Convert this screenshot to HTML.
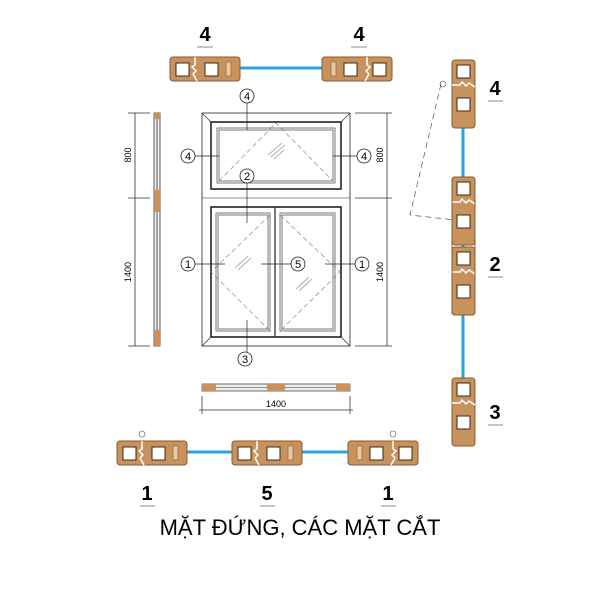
<!DOCTYPE html>
<html><head><meta charset="utf-8"><style>
html,body{margin:0;padding:0;background:#fff;width:600px;height:600px;overflow:hidden}
svg{display:block}
text{font-family:"Liberation Sans",sans-serif}
</style></head><body>
<svg width="600" height="600" viewBox="0 0 600 600" xmlns="http://www.w3.org/2000/svg">
<defs>
<g id="ph">
 <rect x="0" y="0" width="70" height="24" rx="3" fill="#c8925c" stroke="#8a5a30" stroke-width="1"/>
 <rect x="6" y="6" width="13" height="13" fill="#fff" stroke="#3a2a1a" stroke-width="1"/>
 <rect x="35" y="6" width="13" height="13" fill="#fff" stroke="#3a2a1a" stroke-width="1"/>
 <path d="M25 0 L25 8 L22 10 L26 14 L23 17 L27 24" fill="none" stroke="#fff" stroke-width="1.5"/>
 <rect x="56" y="5" width="5" height="14" fill="#e8c8a0" stroke="#8a5a30" stroke-width="0.6"/>
</g>
<g id="pv">
 <rect x="0" y="0" width="23" height="68" rx="3" fill="#c8925c" stroke="#8a5a30" stroke-width="1"/>
 <rect x="5" y="5" width="13" height="13" fill="#fff" stroke="#3a2a1a"/>
 <rect x="5" y="38" width="13" height="13" fill="#fff" stroke="#3a2a1a"/>
 <path d="M0 25 L8 25 L10 22 L14 26 L17 23 L23 27" fill="none" stroke="#fff" stroke-width="1.5"/>
</g>
</defs>

<!-- top profiles 4 4 -->
<text x="205" y="41" font-size="20" font-weight="bold" text-anchor="middle">4</text>
<line x1="197" y1="47" x2="213" y2="47" stroke="#888"/>
<text x="359" y="41" font-size="20" font-weight="bold" text-anchor="middle">4</text>
<line x1="351" y1="47" x2="367" y2="47" stroke="#888"/>
<line x1="238" y1="68" x2="324" y2="68" stroke="#29a3e0" stroke-width="3"/>
<use href="#ph" x="170" y="57" transform="translate(0,0)"/>
<use href="#ph" transform="translate(392,57) scale(-1,1)"/>

<!-- left side view -->
<g stroke="#333" stroke-width="0.8" fill="none">
 <line x1="135" y1="113" x2="135" y2="346"/>
 <line x1="128" y1="113" x2="150" y2="113"/>
 <line x1="128" y1="198" x2="150" y2="198"/>
 <line x1="128" y1="346" x2="150" y2="346"/>
 <rect x="154" y="113" width="6" height="233" fill="#eee"/>
 <line x1="157" y1="113" x2="157" y2="346"/>
</g>
<rect x="154" y="113" width="6" height="6" fill="#c8925c"/>
<rect x="154" y="190" width="6" height="22" fill="#c8925c"/>
<rect x="154" y="330" width="6" height="16" fill="#c8925c"/>
<text transform="translate(131,155) rotate(-90)" font-size="9" text-anchor="middle">800</text>
<text transform="translate(131,272) rotate(-90)" font-size="9" text-anchor="middle">1400</text>

<!-- right dim -->
<g stroke="#333" stroke-width="0.8">
 <line x1="387" y1="113" x2="387" y2="346"/>
 <line x1="355" y1="113" x2="392" y2="113"/>
 <line x1="355" y1="198" x2="392" y2="198"/>
 <line x1="355" y1="346" x2="392" y2="346"/>
</g>
<text transform="translate(383,155) rotate(-90)" font-size="9" text-anchor="middle">800</text>
<text transform="translate(383,272) rotate(-90)" font-size="9" text-anchor="middle">1400</text>

<!-- window elevation -->
<g stroke="#222" fill="none">
 <rect x="202" y="113" width="148" height="233" stroke-width="0.8"/>
 <line x1="202" y1="113" x2="211" y2="122" stroke-width="0.6"/>
 <line x1="350" y1="113" x2="341" y2="122" stroke-width="0.6"/>
 <line x1="202" y1="346" x2="211" y2="337" stroke-width="0.6"/>
 <line x1="350" y1="346" x2="341" y2="337" stroke-width="0.6"/>
 <line x1="202" y1="198" x2="350" y2="198" stroke-width="0.6"/>
 <rect x="211" y="122" width="130" height="67" stroke-width="1.6"/>
 <rect x="217" y="128" width="118" height="55" stroke-width="0.6"/>
 <rect x="219" y="130" width="114" height="51" stroke-width="0.6"/>
 <rect x="211" y="207" width="130" height="130" stroke-width="1.6"/>
 <line x1="275" y1="207" x2="275" y2="337" stroke-width="1.2"/>
 <rect x="216" y="213" width="54" height="118" stroke-width="0.6"/>
 <rect x="218" y="215" width="50" height="114" stroke-width="0.6"/>
 <rect x="280" y="213" width="55" height="118" stroke-width="0.6"/>
 <rect x="282" y="215" width="51" height="114" stroke-width="0.6"/>
 <g stroke="#777" stroke-width="0.6" stroke-dasharray="5,3">
  <polyline points="219,181 276,123 333,181"/>
  <polyline points="270,215 211,272 270,331"/>
  <polyline points="280,215 340,272 280,331"/>
 </g>
 <g stroke="#888" stroke-width="0.6">
  <line x1="268" y1="155" x2="282" y2="143"/><line x1="271" y1="157" x2="285" y2="145"/><line x1="274" y1="159" x2="284" y2="150"/>
  <line x1="235" y1="268" x2="248" y2="256"/><line x1="238" y1="270" x2="251" y2="258"/>
  <line x1="296" y1="289" x2="309" y2="277"/><line x1="299" y1="291" x2="312" y2="279"/>
 </g>
 <g stroke-width="0.7">
  <line x1="247" y1="102" x2="247" y2="130"/>
  <line x1="195" y1="156" x2="219" y2="156"/>
  <line x1="333" y1="156" x2="357" y2="156"/>
  <line x1="247" y1="182" x2="247" y2="223"/>
  <line x1="195" y1="264" x2="225" y2="264"/>
  <line x1="261" y1="264" x2="291" y2="264"/>
  <line x1="325" y1="264" x2="355" y2="264"/>
  <line x1="247" y1="320" x2="247" y2="352"/>
 </g>
 <g stroke-width="0.8" fill="#fff">
  <circle cx="247" cy="96" r="7"/><circle cx="188" cy="156" r="7"/><circle cx="364" cy="156" r="7"/>
  <circle cx="247" cy="176" r="7"/><circle cx="188" cy="264" r="7"/><circle cx="298" cy="264" r="7"/>
  <circle cx="362" cy="264" r="7"/><circle cx="245" cy="359" r="7"/>
 </g>
</g>
<g font-size="11" text-anchor="middle">
 <text x="247" y="100">4</text><text x="188" y="160">4</text><text x="364" y="160">4</text>
 <text x="247" y="180">2</text><text x="188" y="268">1</text><text x="298" y="268">5</text>
 <text x="362" y="268">1</text><text x="245" y="363">3</text>
</g>

<!-- plan -->
<rect x="202" y="384" width="148" height="7" fill="#eee" stroke="#333" stroke-width="0.7"/>
<line x1="202" y1="387.5" x2="350" y2="387.5" stroke="#333" stroke-width="0.5"/>
<rect x="202" y="384" width="14" height="7" fill="#c8925c"/>
<rect x="267" y="384" width="18" height="7" fill="#c8925c"/>
<rect x="336" y="384" width="14" height="7" fill="#c8925c"/>
<g stroke="#333" stroke-width="0.8">
 <line x1="202" y1="396" x2="202" y2="414"/><line x1="350" y1="396" x2="350" y2="414"/>
 <line x1="199" y1="410" x2="353" y2="410"/>
</g>
<text x="276" y="407" font-size="9" text-anchor="middle">1400</text>

<!-- right vertical profiles -->
<path d="M441 84 L410 215 L455 220" fill="none" stroke="#555" stroke-width="0.7" stroke-dasharray="6,4"/>
<circle cx="443" cy="84" r="3" fill="none" stroke="#555" stroke-width="0.6"/>
<line x1="463" y1="120" x2="463" y2="385" stroke="#29a3e0" stroke-width="3"/>
<use href="#pv" x="452" y="60"/>
<use href="#pv" x="452" y="177"/>
<use href="#pv" x="452" y="247" transform="translate(0,0)"/>
<rect x="452" y="177" width="23" height="138" rx="3" fill="none" stroke="#8a5a30"/>
<use href="#pv" x="452" y="378"/>
<text x="495" y="95" font-size="20" font-weight="bold" text-anchor="middle">4</text>
<line x1="488" y1="101" x2="503" y2="101" stroke="#888"/>
<text x="495" y="271" font-size="20" font-weight="bold" text-anchor="middle">2</text>
<line x1="488" y1="277" x2="503" y2="277" stroke="#888"/>
<text x="495" y="419" font-size="20" font-weight="bold" text-anchor="middle">3</text>
<line x1="488" y1="425" x2="503" y2="425" stroke="#888"/>

<!-- bottom profiles -->
<line x1="180" y1="452" x2="355" y2="452" stroke="#29a3e0" stroke-width="3"/>
<use href="#ph" x="117" y="441"/>
<use href="#ph" x="232" y="441"/>
<use href="#ph" transform="translate(418,441) scale(-1,1)"/>
<circle cx="142" cy="434" r="3" fill="none" stroke="#555" stroke-width="0.6"/>
<circle cx="393" cy="434" r="3" fill="none" stroke="#555" stroke-width="0.6"/>
<g font-size="20" font-weight="bold" text-anchor="middle">
 <text x="147" y="500">1</text><text x="267" y="500">5</text><text x="388" y="500">1</text>
</g>
<g stroke="#888"><line x1="140" y1="506" x2="155" y2="506"/><line x1="260" y1="506" x2="275" y2="506"/><line x1="381" y1="506" x2="396" y2="506"/></g>
<text x="300" y="535" font-size="22" text-anchor="middle">MẶT ĐỨNG, CÁC MẶT CẮT</text>
</svg>
</body></html>
